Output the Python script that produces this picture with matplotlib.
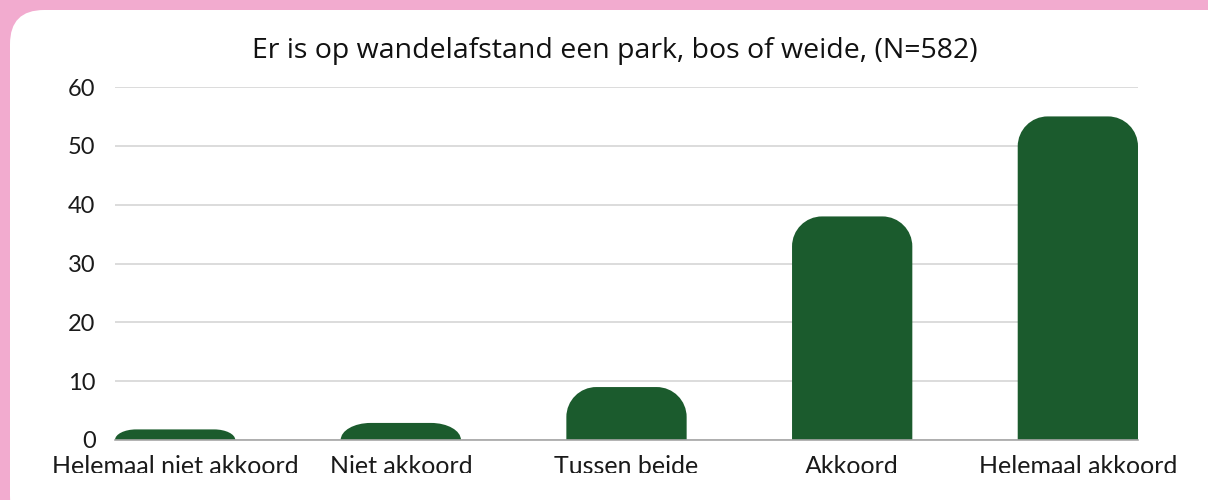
import matplotlib
matplotlib.use("Agg")
import matplotlib.pyplot as plt
from matplotlib.patches import FancyBboxPatch, PathPatch, Rectangle
from matplotlib.path import Path
from matplotlib.transforms import IdentityTransform

categories = ["Helemaal niet akkoord", "Niet akkoord", "Tussen beide", "Akkoord", "Helemaal akkoord"]
percentages = [1.8, 2.9, 9.0, 38.0, 55.0]
y_ticks = [0, 10, 20, 30, 40, 50, 60]
title = "Er is op wandelafstand een park, bos of weide, (N=582)"

pink = "#f2abcf"
green = "#1b5b2d"

plt.rcParams["font.family"] = ["Lato", "DejaVu Sans"]

fig = plt.figure(figsize=(12.08, 5), dpi=100)
fig.patch.set_facecolor(pink)

# white card with rounded corners (pixel coords)
card = FancyBboxPatch((10, -30), 1240, 520, boxstyle="round,pad=0,rounding_size=34",
                      transform=IdentityTransform(), facecolor="white", edgecolor="none",
                      zorder=-5)
fig.add_artist(card)

ax = fig.add_axes([115 / 1208, 60 / 500, 1023 / 1208, 353 / 500])
ax.set_facecolor("none")

width = 0.533
bars = ax.bar(range(len(categories)), percentages, width=width, color="none")
ax.set_xlim(-width / 2, len(categories) - 1 + width / 2)
ax.set_ylim(0, 60)
fig.canvas.draw()

# rounded tops, radius in pixels converted to data units
px_x = ax.transData.transform((1, 0))[0] - ax.transData.transform((0, 0))[0]
px_y = ax.transData.transform((0, 1))[1] - ax.transData.transform((0, 0))[1]
k = 0.5523
for b in bars:
    x0, w, h = b.get_x(), b.get_width(), b.get_height()
    h_px = h * px_y
    ry = min(30, h_px) / px_y
    rx = min(30, 2 * h_px) / px_x
    x1 = x0 + w
    verts = [(x0, 0), (x0, h - ry),
             (x0, h - ry + k * ry), (x0 + rx - k * rx, h), (x0 + rx, h),
             (x1 - rx, h),
             (x1 - rx + k * rx, h), (x1, h - ry + k * ry), (x1, h - ry),
             (x1, 0), (x0, 0)]
    codes = [Path.MOVETO, Path.LINETO,
             Path.CURVE4, Path.CURVE4, Path.CURVE4,
             Path.LINETO,
             Path.CURVE4, Path.CURVE4, Path.CURVE4,
             Path.LINETO, Path.CLOSEPOLY]
    ax.add_patch(PathPatch(Path(verts, codes), facecolor=green, edgecolor="none", zorder=3))

ax.set_yticks(y_ticks)
ax.set_xticks(range(len(categories)))
ax.set_xticklabels(categories)
ax.yaxis.grid(True, color="#d9d9d9", linewidth=1.3)
ax.set_axisbelow(True)
for s in ["top", "right", "left"]:
    ax.spines[s].set_visible(False)
ax.spines["bottom"].set_color("#a6a6a6")
ax.spines["bottom"].set_linewidth(1.2)
ax.spines["bottom"].set_zorder(4)
ax.tick_params(axis="both", length=0, labelcolor="#1a1a1a")
ax.tick_params(axis="y", pad=14, labelsize=17)
ax.tick_params(axis="x", pad=11, labelsize=18)

# the category labels are cut off at the bottom in the original
fig.add_artist(Rectangle((40, 0), 1168, 27, transform=IdentityTransform(),
                         facecolor="white", edgecolor="none", zorder=10))

fig.text(615 / 1208, 1 - 51 / 500, title, ha="center", va="center", fontsize=20.5,
         family=["Open Sans", "DejaVu Sans"], color="#111111")

fig.savefig("out.png", dpi=100, facecolor=fig.get_facecolor())
